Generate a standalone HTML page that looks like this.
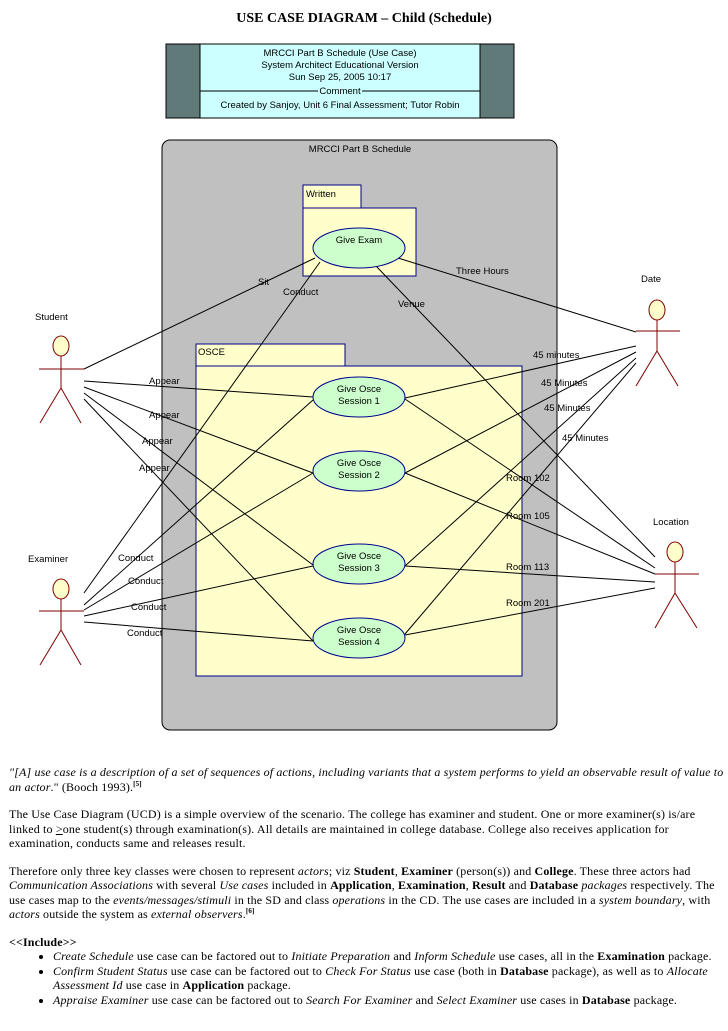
<!DOCTYPE html>
<html><head><meta charset="utf-8"><style>
body{margin:0;width:728px;height:1031px;background:#fff;position:relative;overflow:hidden}
svg{position:absolute;left:0;top:0}
.t{position:absolute;left:9px;width:720px;font-family:"Liberation Serif",serif;font-size:12px;letter-spacing:0.15px;line-height:14.5px;color:#000;white-space:nowrap}
.t p{margin:0 0 13px 0}
ul{margin:0;padding-left:44px}
li{margin:0}
sup{font-size:7px;font-weight:bold;line-height:0}
</style></head><body>
<svg width="728" height="750" font-family="Liberation Sans, sans-serif" font-size="9.5">
<text x="364" y="22" text-anchor="middle" font-family="Liberation Serif, serif" font-weight="bold" font-size="14">USE CASE DIAGRAM – Child (Schedule)</text>
<rect x="166" y="44" width="348" height="74" fill="#ccffff" stroke="#000"/>
<rect x="166" y="44" width="34" height="74" fill="#5f7a78" stroke="#000"/>
<rect x="480" y="44" width="34" height="74" fill="#5f7a78" stroke="#000"/>
<text x="340" y="56" text-anchor="middle">MRCCI Part B Schedule (Use Case)</text>
<text x="340" y="68" text-anchor="middle">System Architect Educational Version</text>
<text x="340" y="80" text-anchor="middle">Sun Sep 25, 2005  10:17</text>
<line x1="200" y1="91" x2="480" y2="91" stroke="#000"/>
<rect x="318" y="85" width="44" height="12" fill="#ccffff"/>
<text x="340" y="94" text-anchor="middle">Comment</text>
<text x="340" y="108" text-anchor="middle">Created by Sanjoy, Unit 6 Final Assessment; Tutor Robin</text>
<rect x="162" y="140" width="395" height="590" rx="8" fill="#c0c0c0" stroke="#000"/>
<text x="360" y="152" text-anchor="middle">MRCCI Part B Schedule</text>
<rect x="303" y="185" width="58" height="23" fill="#ffffcc" stroke="#00008b"/>
<rect x="303" y="208" width="113" height="68" fill="#ffffcc" stroke="#00008b"/>
<text x="306" y="197">Written</text>
<rect x="196" y="344" width="149" height="22" fill="#ffffcc" stroke="#00008b"/>
<rect x="196" y="366" width="326" height="310" fill="#ffffcc" stroke="#00008b"/>
<text x="198" y="355">OSCE</text>
<g stroke="#000" stroke-width="1" fill="none">
<line x1="84" y1="369" x2="315" y2="258"/>
<line x1="84" y1="381" x2="313" y2="397"/>
<line x1="84" y1="387" x2="313" y2="473"/>
<line x1="84" y1="393" x2="313" y2="565"/>
<line x1="84" y1="399" x2="313" y2="641"/>
<line x1="84" y1="593" x2="320" y2="262"/>
<line x1="84" y1="605" x2="313" y2="400"/>
<line x1="84" y1="610" x2="313" y2="473"/>
<line x1="84" y1="616" x2="313" y2="566"/>
<line x1="84" y1="622" x2="313" y2="641"/>
<line x1="398" y1="258" x2="636" y2="332"/>
<line x1="376" y1="266" x2="655" y2="557"/>
<line x1="405" y1="398" x2="636" y2="346"/>
<line x1="405" y1="473" x2="636" y2="352"/>
<line x1="405" y1="566" x2="636" y2="358"/>
<line x1="405" y1="634" x2="636" y2="363"/>
<line x1="405" y1="399" x2="655" y2="568"/>
<line x1="405" y1="473" x2="655" y2="574"/>
<line x1="405" y1="566" x2="655" y2="582"/>
<line x1="405" y1="635" x2="655" y2="588"/>
</g>
<g fill="#ccffcc" stroke="#00008b">
<ellipse cx="359" cy="248" rx="46" ry="20"/>
<ellipse cx="359" cy="397" rx="46" ry="20"/>
<ellipse cx="359" cy="471" rx="46" ry="20"/>
<ellipse cx="359" cy="564" rx="46" ry="20"/>
<ellipse cx="359" cy="638" rx="46" ry="20"/>
</g>
<g text-anchor="middle">
<text x="359" y="243">Give Exam</text>
<text x="359" y="392">Give Osce</text><text x="359" y="404">Session 1</text>
<text x="359" y="466">Give Osce</text><text x="359" y="478">Session 2</text>
<text x="359" y="559">Give Osce</text><text x="359" y="571">Session 3</text>
<text x="359" y="633">Give Osce</text><text x="359" y="645">Session 4</text>
</g>
<g stroke="#800000" fill="none">
<ellipse cx="61" cy="346" rx="8" ry="10" fill="#ffffcc"/><line x1="61" y1="356" x2="61" y2="388"/><line x1="39" y1="369" x2="84" y2="369"/><line x1="61" y1="388" x2="40" y2="423"/><line x1="61" y1="388" x2="81" y2="423"/>
<ellipse cx="61" cy="589" rx="8" ry="10" fill="#ffffcc"/><line x1="61" y1="599" x2="61" y2="630"/><line x1="39" y1="611" x2="84" y2="611"/><line x1="61" y1="630" x2="40" y2="665"/><line x1="61" y1="630" x2="81" y2="665"/>
<ellipse cx="657" cy="310" rx="8" ry="10" fill="#ffffcc"/><line x1="657" y1="320" x2="657" y2="351"/><line x1="636" y1="331" x2="680" y2="331"/><line x1="657" y1="351" x2="636" y2="386"/><line x1="657" y1="351" x2="678" y2="386"/>
<ellipse cx="675" cy="552" rx="8" ry="10" fill="#ffffcc"/><line x1="675" y1="562" x2="675" y2="593"/><line x1="655" y1="574" x2="699" y2="574"/><line x1="675" y1="593" x2="655" y2="628"/><line x1="675" y1="593" x2="697" y2="628"/>
</g>
<text x="35" y="320">Student</text>
<text x="28" y="562">Examiner</text>
<text x="641" y="282">Date</text>
<text x="653" y="525">Location</text>
<text x="258" y="285">Sit</text>
<text x="283" y="295">Conduct</text>
<text x="398" y="307">Venue</text>
<text x="456" y="274">Three Hours</text>
<text x="533" y="358">45 minutes</text>
<text x="541" y="386">45 Minutes</text>
<text x="544" y="411">45 Minutes</text>
<text x="562" y="441">45 Minutes</text>
<text x="506" y="481">Room 102</text>
<text x="506" y="519">Room 105</text>
<text x="506" y="570">Room 113</text>
<text x="506" y="606">Room 201</text>
<text x="149" y="384">Appear</text>
<text x="149" y="418">Appear</text>
<text x="142" y="444">Appear</text>
<text x="139" y="471">Appear</text>
<text x="118" y="561">Conduct</text>
<text x="128" y="584">Conduct</text>
<text x="131" y="610">Conduct</text>
<text x="127" y="636">Conduct</text>
</svg>
<div class="t" style="top:765px">
<p><i>"[A] use case is a description of a set of sequences of actions, including variants that a system performs to yield an observable result of value to</i><br><i>an actor</i>." (Booch 1993).<sup>[5]</sup></p>
<p>The Use Case Diagram (UCD) is a simple overview of the scenario. The college has examiner and student. One or more examiner(s) is/are<br>linked to <u>&gt;</u>one student(s) through examination(s). All details are maintained in college database. College also receives application for<br>examination, conducts same and releases result.</p>
<p>Therefore only three key classes were chosen to represent <i>actors</i>; viz <b>Student</b>, <b>Examiner</b> (person(s)) and <b>College</b>. These three actors had<br><i>Communication Associations</i> with several <i>Use cases</i> included in <b>Application</b>, <b>Examination</b>, <b>Result</b> and <b>Database</b> <i>packages</i> respectively. The<br>use cases map to the <i>events/messages/stimuli</i> in the SD and class <i>operations</i> in the CD. The use cases are included in a <i>system boundary</i>, with<br><i>actors</i> outside the system as <i>external observers</i>.<sup>[6]</sup></p>
<p style="margin:0"><b>&lt;&lt;Include&gt;&gt;</b></p>
<ul>
<li><i>Create Schedule</i> use case can be factored out to <i>Initiate Preparation</i> and <i>Inform Schedule</i> use cases, all in the <b>Examination</b> package.</li>
<li><i>Confirm Student Status</i> use case can be factored out to <i>Check For Status</i> use case (both in <b>Database</b> package), as well as to <i>Allocate</i><br><i>Assessment Id</i> use case in <b>Application</b> package.</li>
<li><i>Appraise Examiner</i> use case can be factored out to <i>Search For Examiner</i> and <i>Select Examiner</i> use cases in <b>Database</b> package.</li>
</ul>
</div>
</body></html>
